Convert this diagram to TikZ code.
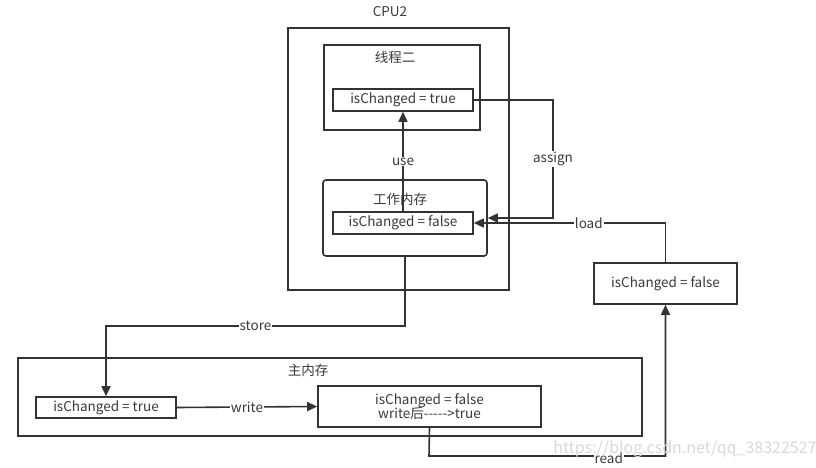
\documentclass[tikz,border=0pt]{standalone}
\usepackage{fontspec}
\setmainfont{Noto Sans CJK SC}[Ligatures=TeXOff]
\usetikzlibrary{arrows.meta}
\definecolor{ln}{HTML}{333333}
\definecolor{tx}{HTML}{3a3a3a}
\begin{document}
\begin{tikzpicture}[x=1pt,y=-1pt,
  box/.style={draw=ln,line width=1.6pt,fill=white,inner sep=0pt,text=tx,font=\fontsize{13.5}{15}\selectfont},
  conn/.style={draw=ln,line width=1.6pt,-{Triangle[length=10pt,width=9pt]}},
  lbl/.style={fill=white,inner sep=1pt,text=tx,font=\fontsize{13.5}{15}\selectfont},
  title/.style={text=tx,font=\fontsize{13.5}{15}\selectfont}]
\useasboundingbox (0,0) rectangle (816,468);
\fill[white] (0,0) rectangle (816,468);
% containers
\node[box,minimum width=221pt,minimum height=262pt] (cpu) at (398.5,159) {};
\node[title] (cputitle) at (390,12) {CPU2};
\node[box,minimum width=156pt,minimum height=85pt] (thr) at (402,87.5) {};
\node[title] (thrtitle) at (395,57) {线程二};
\node[box,rounded corners=3pt,minimum width=164pt,minimum height=76pt] (wm) at (405,218) {};
\node[box,minimum width=624pt,minimum height=78pt] (main) at (330,397) {};
\node[title] (maintitle) at (308,370) {主内存};
% value boxes
\node[box,minimum width=140pt,minimum height=22pt] (ttrue) at (403,100) {isChanged = true};
\node[box,minimum width=140pt,minimum height=22pt] (wfalse) at (403,223) {isChanged = false};
\node[box,minimum width=143pt,minimum height=41pt] (rbox) at (665.5,283.5) {isChanged = false};
\node[box,minimum width=140pt,minimum height=21pt] (mtrue) at (106,407.5) {isChanged = true};
\node[box,minimum width=223pt,minimum height=41pt,align=center] (mfalse) at (429.5,406.5) {isChanged = false\\[-1pt]write后----->true};
% connectors
\draw[conn] (wfalse.north) -- node[lbl,pos=0.5] (uselbl) {use} (ttrue.south);
\node[title,fill=none] (wmtitle) at (400,199) {工作内存};
\draw[conn] (ttrue.east) -- (553,100) -- node[lbl] (assignlbl) {assign} (553,218) -- (wm.east);
\draw[conn] (rbox.north) |- node[lbl,pos=0.7] (loadlbl) {load} (wfalse.east);
\draw[conn] (wm.south) -- (405,326) -- node[lbl,pos=0.5] (storelbl) {store} (106,326) -- (mtrue.north);
\draw[conn] (mtrue.east) -- node[lbl] (writelbl) {write} (mfalse.west);
\draw[conn] (mfalse.south) -- (429,456) -- node[lbl,pos=0.76,yshift=-2pt] (readlbl) {read} (665.5,456) -- (rbox.south);
\node[text=gray!30,font=\fontsize{16}{18}\selectfont] (wmk) at (685,449) {https://blog.csdn.net/qq\_38322527};
\end{tikzpicture}
\end{document}
